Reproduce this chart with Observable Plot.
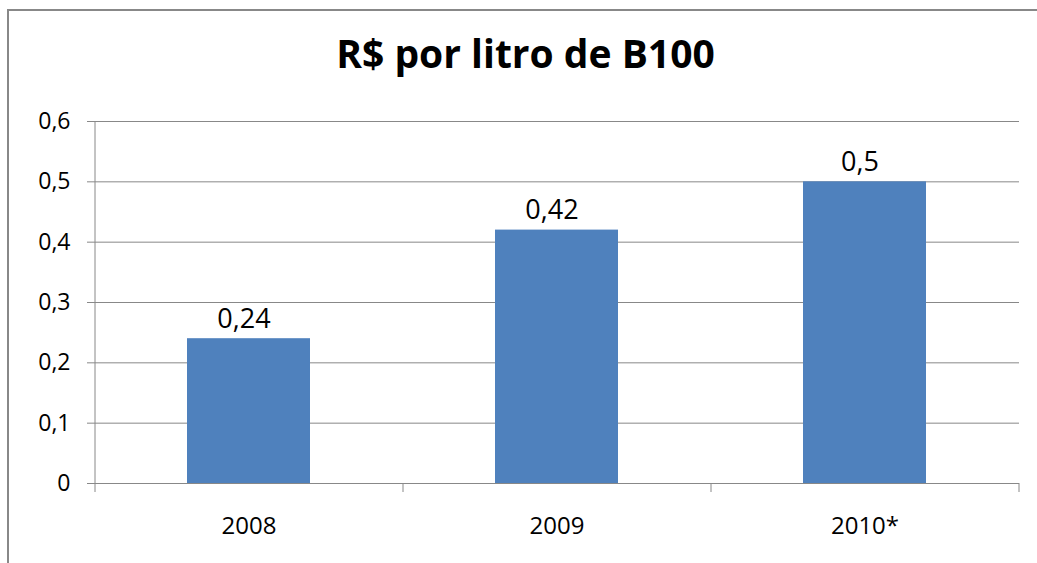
<!DOCTYPE html>
<html><head><meta charset="utf-8">
<script src="https://cdn.jsdelivr.net/npm/d3@7"></script>
<script src="https://cdn.jsdelivr.net/npm/@observablehq/plot@0.6"></script>
<style>
html,body{margin:0;padding:0;background:#fff;}
#wrap{position:relative;width:1037px;height:563px;overflow:hidden;font-family:"Open Sans",sans-serif;}
#border{position:absolute;left:7px;top:9px;width:1200px;height:800px;border:2px solid #888;box-sizing:border-box;pointer-events:none;}
#title{position:relative;height:100px;box-sizing:border-box;padding-top:28px;padding-left:14px;line-height:50px;font-size:39px;font-weight:bold;text-align:center;color:#000;}
#chart svg{display:block;}
</style></head><body>
<div id="wrap"><div id="border"></div><div id="title"></div><div id="chart"></div></div>
<script>
const title = "R$ por litro de B100";
const years = ["2008", "2009", "2010*"];
const values = [0.24, 0.42, 0.5];
const yTicks = [0, 0.1, 0.2, 0.3, 0.4, 0.5, 0.6];

const barColor = "#4F81BD";
const axisColor = "#888888";
const fontFamily = "Open Sans";

const data = years.map((year, i) => ({year, value: values[i]}));
const loc = d3.formatLocale({decimal: ",", thousands: ".", grouping: [3], currency: ["R$", ""]});
const fmt = loc.format("~g");

document.getElementById("title").textContent = title;

function axisLines(index, scales, values, dims) {
  const {width, marginLeft, marginRight} = dims;
  const y = scales.y;
  const y0 = y(0), yTop = y(d3.max(yTicks));
  const tickLen = 9;
  const g = d3.create("svg:g").attr("stroke", axisColor).attr("stroke-width", 1);
  g.append("line").attr("x1", marginLeft).attr("x2", marginLeft).attr("y1", yTop).attr("y2", y0 + tickLen);
  const n = years.length, step = (width - marginLeft - marginRight) / n;
  for (let k = 1; k <= n; k++) {
    const bx = marginLeft + k * step;
    g.append("line").attr("x1", bx).attr("x2", bx).attr("y1", y0).attr("y2", y0 + tickLen);
  }
  return g.node();
}

const plot = Plot.plot({
  width: 1037,
  height: 463,
  marginTop: 21,
  marginBottom: 80,
  marginLeft: 95,
  marginRight: 18,
  style: {fontFamily, background: "transparent", color: "#000"},
  x: {domain: years, paddingInner: 0.6, paddingOuter: 0.3, align: 0.5},
  y: {domain: [0, 0.6]},
  marks: [
    Plot.gridY(yTicks, {stroke: axisColor, strokeOpacity: 1, strokeWidth: 1}),
    Plot.barY(data, {x: "year", y: "value", fill: barColor}),
    Plot.ruleY([0], {stroke: axisColor, strokeWidth: 1}),
    axisLines,
    Plot.axisY({ticks: yTicks, tickSize: 8, tickPadding: 17, tickFormat: fmt, fontSize: 23, stroke: axisColor, fill: "#000", label: null}),
    Plot.axisX({tickSize: 0, tickPadding: 33, fontSize: 24, fill: "#000", label: null}),
    Plot.text(data, {x: "year", y: "value", text: d => fmt(d.value), lineAnchor: "bottom", dy: -11, dx: -5, fontSize: 27, fill: "#000"})
  ]
});
document.getElementById("chart").appendChild(plot);
</script>
</body></html>
